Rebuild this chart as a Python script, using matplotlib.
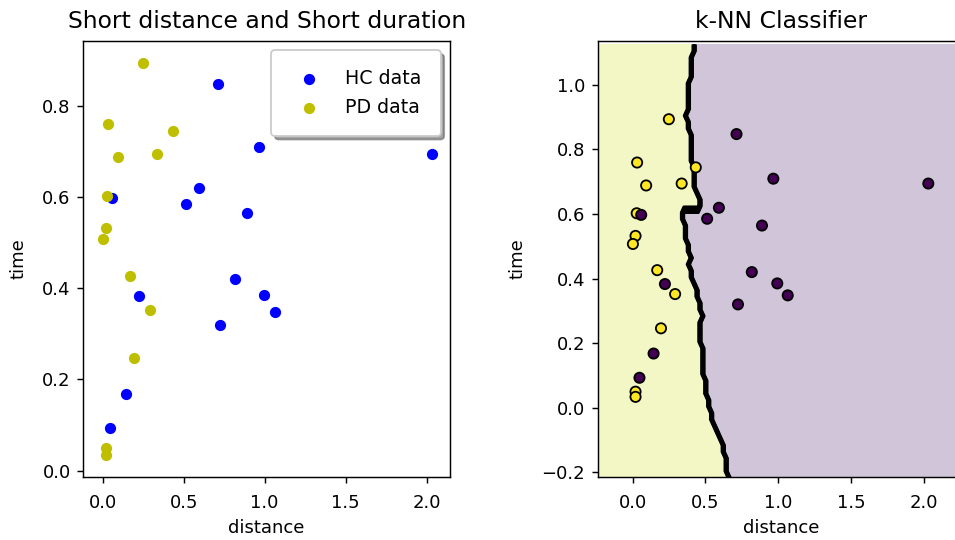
import numpy as np
import matplotlib
matplotlib.use("Agg")
import matplotlib.pyplot as plt

# Healthy control (HC) data
hc_distance = [0.714, 0.967, 2.032, 0.059, 0.593, 0.512, 0.889, 0.819, 0.222, 0.994, 1.066, 0.724, 0.144, 0.047]
hc_time = [0.847, 0.709, 0.694, 0.597, 0.619, 0.585, 0.564, 0.420, 0.383, 0.385, 0.348, 0.320, 0.168, 0.093]
# Parkinson's disease (PD) data
pd_distance = [0.249, 0.031, 0.434, 0.093, 0.337, 0.028, 0.020, 0.002, 0.169, 0.292, 0.195, 0.020, 0.020]
pd_time = [0.893, 0.759, 0.744, 0.688, 0.694, 0.602, 0.532, 0.507, 0.426, 0.352, 0.246, 0.050, 0.034]

# k-NN decision boundary (time -> distance)
boundary_time = [-0.214, -0.193, -0.152, -0.110, -0.079, -0.048, -0.007, 0.055, 0.137, 0.189,
                 0.225, 0.246, 0.275, 0.285, 0.297, 0.339, 0.380, 0.416, 0.442, 0.462,
                 0.493, 0.535, 0.576, 0.607, 0.620, 0.624, 0.643, 0.669, 0.689, 0.732,
                 0.783, 0.835, 0.876, 0.902, 0.959, 1.010, 1.062, 1.103, 1.134]
boundary_distance = [0.660, 0.645, 0.633, 0.622, 0.587, 0.553, 0.530, 0.496, 0.485, 0.473,
                     0.468, 0.462, 0.450, 0.475, 0.473, 0.450, 0.427, 0.404, 0.388, 0.404,
                     0.382, 0.366, 0.352, 0.343, 0.347, 0.457, 0.457, 0.439, 0.423, 0.416,
                     0.404, 0.398, 0.382, 0.370, 0.382, 0.393, 0.404, 0.416, 0.427]

W, H, DPI = 955, 540, 130
fig = plt.figure(figsize=(W / DPI, H / DPI), dpi=DPI)

# ---- left: scatter ----
ax1 = fig.add_axes([83.3 / W, 63 / H, 366.7 / W, 436 / H])
ax1.scatter(hc_distance, hc_time, c='b', s=27, label='HC data')
ax1.scatter(pd_distance, pd_time, c='y', s=27, label='PD data')
ax1.set_xlim(-0.12, 2.145)
ax1.set_ylim(-0.0138, 0.942)
ax1.set_xticks([0.0, 0.5, 1.0, 1.5, 2.0])
ax1.set_yticks([0.0, 0.2, 0.4, 0.6, 0.8])
ax1.tick_params(axis='x', pad=6)
ax1.set_xlabel('distance')
ax1.set_ylabel('time', labelpad=8)
ax1.set_title('Short distance and Short duration', fontsize=13, pad=7)
ax1.legend(loc='upper right', shadow=True, borderpad=1.0, fontsize=10.5,
           handletextpad=0.9)

# ---- right: k-NN classifier ----
ax2 = fig.add_axes([597.7 / W, 63 / H, 366.7 / W, 436 / H])
x_all = np.array(pd_distance + hc_distance)
y_all = np.array(pd_time + hc_time)
labels = np.array([1] * len(pd_distance) + [0] * len(hc_distance))
h = 0.02
xx, yy = np.meshgrid(np.arange(x_all.min() - 0.25, x_all.max() + 0.25, h),
                     np.arange(y_all.min() - 0.25, y_all.max() + 0.25, h))
edge = np.interp(yy, boundary_time, boundary_distance)
Z = (xx < edge).astype(int)
ax2.contourf(xx, yy, Z, alpha=0.25)
ax2.contour(xx, yy, Z, colors='k')
ax2.scatter(x_all, y_all, c=labels, s=32, edgecolor='k', zorder=3)
ax2.set_xlim(-0.24, 2.28)
ax2.set_ylim(-0.214, 1.135)
ax2.set_xticks([0.0, 0.5, 1.0, 1.5, 2.0])
ax2.set_yticks([-0.2, 0.0, 0.2, 0.4, 0.6, 0.8, 1.0])
ax2.tick_params(axis='x', pad=6)
ax2.set_xlabel('distance')
ax2.set_ylabel('time', labelpad=8)
ax2.set_title('k-NN Classifier', fontsize=13, pad=7)

fig.savefig('out.png', dpi=DPI)
